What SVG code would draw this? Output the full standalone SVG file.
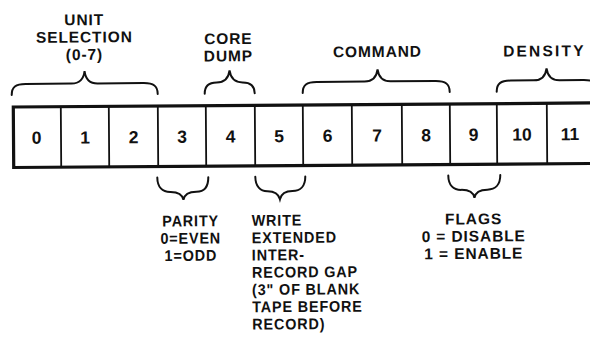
<svg xmlns="http://www.w3.org/2000/svg" width="590" height="337" viewBox="0 0 590 337">
<style>
  text { font-family: "Liberation Sans", Arial, sans-serif; font-weight: bold; font-size: 15.5px; fill: #111; letter-spacing: 0.9px; }
  .c { text-anchor: middle; }
  .d { text-anchor: middle; font-size: 17.5px; letter-spacing: 0; }
  .frame { fill: none; stroke: #111; stroke-width: 3.2; }
  .div { stroke: #111; stroke-width: 1.8; }
  .brace { fill: none; stroke: #111; stroke-width: 2; stroke-linecap: round; }
</style>
<rect width="590" height="337" fill="#fff"/>
<g transform="rotate(-0.4 300 135)">
  <g id="register">
    <path class="frame" d="M600,105 H13.5 V165.5 H600"/>
    <path class="div" d="M61,105 V165.5 M109,105 V165.5 M158,105 V165.5 M206,105 V165.5 M255,105 V165.5 M303,105 V165.5 M352,105 V165.5 M402,105 V165.5 M450,105 V165.5 M497,105 V165.5 M547,105 V165.5"/>
  </g>
  <g id="bits">
    <text class="d" x="36.5" y="142">0</text>
    <text class="d" x="85" y="142">1</text>
    <text class="d" x="133.5" y="142">2</text>
    <text class="d" x="182" y="142">3</text>
    <text class="d" x="230.5" y="142">4</text>
    <text class="d" x="279" y="142">5</text>
    <text class="d" x="327.5" y="142">6</text>
    <text class="d" x="377" y="142">7</text>
    <text class="d" x="426" y="142">8</text>
    <text class="d" x="473.5" y="142">9</text>
    <text class="d" x="522" y="142">10</text>
    <text class="d" x="570" y="142">11</text>
  </g>
  <g id="connectors">
    <path class="brace" d="M12,93 C12,85 16,82 26,82 L72,82 C80,82 84,78 85,69.5 C86,78 90,82 98,82 L144,82 C154,82 158,85 158,93"/>
    <path class="brace" d="M205,93 C205,86 209,82 217,82 C224,82 229,78 230,70 C231,78 236,82 243,82 C251,82 255,86 255,93"/>
    <path class="brace" d="M303,93 C303,85 307,82 317,82 L365,82 C373,82 377,78 378,70 C379,78 383,82 391,82 L436,82 C446,82 450,85 450,93"/>
    <path class="brace" d="M497,93 C497,85 501,82 511,82 L534,82 C542,82 546,78 547,70 C548,78 552,82 560,82 L584,82 C594,82 598,85 598,93"/>
    <path class="brace" d="M157,176.5 C157,186 162,191 170,191 C177,191 182,193.5 183,199 C184,193.5 189,191 196,191 C204,191 208,186 208,176.5"/>
    <path class="brace" d="M255,176.5 C255,186 260,191 267,191 C274,191 278,193.5 279.5,199 C281,193.5 285,191 292,191 C300,191 305,186 305,176.5"/>
    <path class="brace" d="M448,176.5 C448,186 453,191 461,191 C468,191 473,193.5 474,199 C475,193.5 480,191 487,191 C495,191 500,186 500,176.5"/>
  </g>
  <g id="unit-selection">
    <text class="c" x="85" y="23.7">UNIT</text>
    <text class="c" x="85" y="41">SELECTION</text>
    <text class="c" x="85" y="58.3">(0-7)</text>
  </g>
  <g id="core-dump">
    <text class="c" x="229" y="43.5">CORE</text>
    <text class="c" x="229" y="60.8">DUMP</text>
  </g>
  <g id="command">
    <text class="c" x="378" y="57.5">COMMAND</text>
  </g>
  <g id="density">
    <text class="c" x="545" y="58" style="letter-spacing:2.2px">DENSITY</text>
  </g>
  <g id="parity" transform="translate(190 0) scale(0.93 1)">
    <text class="c" x="0" y="225.5">PARITY</text>
    <text class="c" x="0" y="242.8">0=EVEN</text>
    <text class="c" x="0" y="260.1">1=ODD</text>
  </g>
  <g id="write" transform="translate(251 0) scale(0.93 1)">
    <text x="0" y="225.5">WRITE</text>
    <text x="0" y="242.8">EXTENDED</text>
    <text x="0" y="260.1">INTER-</text>
    <text x="0" y="277.4">RECORD GAP</text>
    <text x="0" y="294.7">(3" OF BLANK</text>
    <text x="0" y="312">TAPE BEFORE</text>
    <text x="0" y="329.3">RECORD)</text>
  </g>
  <g id="flags">
    <text class="c" x="473" y="225.5">FLAGS</text>
    <text class="c" x="473" y="242.8">0 = DISABLE</text>
    <text class="c" x="473" y="260.1">1 = ENABLE</text>
  </g>
</g>
</svg>
